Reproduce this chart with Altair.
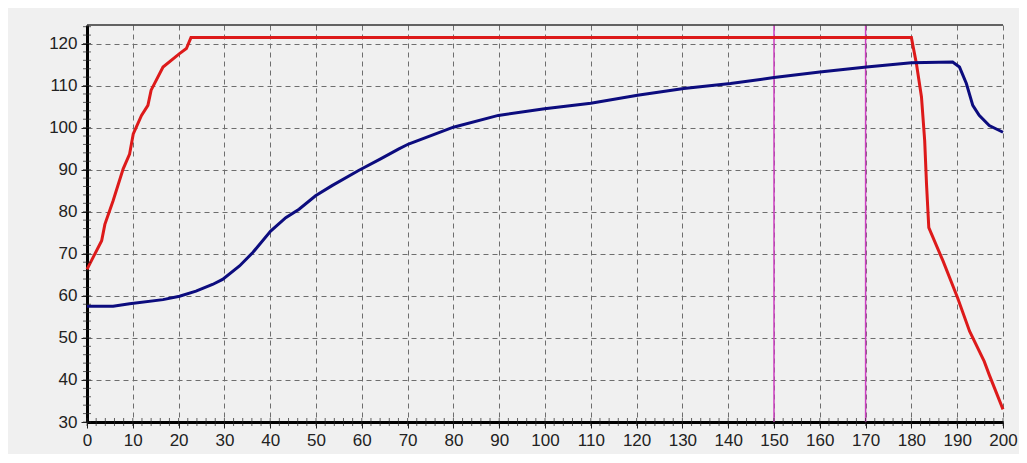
import altair as alt
import pandas as pd

# ---- data ----
red_x = [0, 1.5, 3.2, 3.9, 5.7, 7.9, 9.3, 10.1, 11.9, 13.3, 14.0, 16.6, 20.2, 21.7, 22.7,
         180, 181.1, 182.2, 182.9, 183.3, 183.8, 186.9, 190.1, 192.7, 195.9, 197, 200]
red_y = [66.3, 69.5, 73.1, 77.0, 82.6, 90.2, 93.7, 98.5, 102.9, 105.3, 108.9, 114.4, 117.6, 118.8, 121.4,
         121.4, 115.2, 107.3, 96.9, 86.6, 76.2, 68.3, 59.5, 51.6, 44.4, 41.2, 33.0]

blue_x = [0, 5.7, 9.3, 16.6, 20.2, 23.8, 27.4, 29.6, 33.3, 36.2, 40.1, 43.4, 46.3, 49.9, 53.5,
          59.3, 64, 68, 70.2, 80, 89.8, 99.9, 110, 120.2, 130.3, 140.5, 150, 160, 170.2, 180,
          189, 190.5, 192, 193.4, 194.8, 197, 200]
blue_y = [57.5, 57.5, 58.1, 59.1, 59.9, 61.1, 62.7, 63.9, 67.1, 70.3, 75.4, 78.6, 80.6, 83.8, 86.2,
          89.8, 92.5, 94.9, 96.1, 100.1, 102.9, 104.5, 105.8, 107.7, 109.3, 110.5, 111.9, 113.2, 114.4, 115.4,
          115.6, 114.4, 110.5, 105.3, 102.9, 100.5, 98.9]

marker_x = [150, 170]
x_ticks = list(range(0, 201, 10))
y_ticks = list(range(30, 121, 10))
x_minor = list(range(0, 201, 2))
y_minor = list(range(30, 125, 2))

Y_MIN, Y_MAX = 30, 124.4

red_df = pd.DataFrame({"x": red_x, "y": red_y})
blue_df = pd.DataFrame({"x": blue_x, "y": blue_y})
mark_df = pd.DataFrame({"x": marker_x})
xminor_df = pd.DataFrame({"x": x_minor, "y": [Y_MIN] * len(x_minor)})
yminor_df = pd.DataFrame({"y": y_minor, "x": [0] * len(y_minor)})
top_df = pd.DataFrame({"y": [Y_MAX]})

xs = alt.Scale(domain=[0, 200], nice=False, zero=False)
ys = alt.Scale(domain=[Y_MIN, Y_MAX], nice=False, zero=False)

axis_common = dict(
    domainColor="black", domainWidth=3,
    tickColor="#222", tickSize=6, tickWidth=1,
    labelFont="Liberation Sans", labelFontSize=17, labelColor="#222",
    labelFlush=False, labelOverlap=False,
    grid=True, gridColor="#6e6e6e", gridDash=[5, 4], gridWidth=1,
    title=None,
)

x_enc = alt.X("x:Q", scale=xs, axis=alt.Axis(values=x_ticks, labelPadding=4, **axis_common))
y_enc = alt.Y("y:Q", scale=ys, axis=alt.Axis(values=y_ticks, labelPadding=4, **axis_common))

base_x = alt.X("x:Q", scale=xs)
base_y = alt.Y("y:Q", scale=ys)

red = alt.Chart(red_df).mark_line(color="#dd1a1a", strokeWidth=3).encode(x=x_enc, y=y_enc)
blue = alt.Chart(blue_df).mark_line(color="#0c0c7e", strokeWidth=3).encode(x=base_x, y=base_y)

markers = alt.Chart(mark_df).mark_rule(color="#cc3fc0", strokeWidth=1.5).encode(x=base_x)

top = alt.Chart(top_df).mark_rule(color="#333", strokeWidth=1.5).encode(y=base_y)

xminor = alt.Chart(xminor_df).mark_tick(orient="vertical", size=8, thickness=1, color="#222").encode(
    x=base_x, y=base_y)
yminor = alt.Chart(yminor_df).mark_tick(orient="horizontal", size=8, thickness=1, color="#222").encode(
    x=base_x, y=base_y)

chart = alt.layer(markers, top, red, blue, xminor, yminor).properties(
    width=916, height=397,
    autosize=alt.AutoSizeParams(type="none"),
    padding={"left": 79, "top": 17, "right": 16, "bottom": 32},
    background="#f0f0f0",
).configure_view(stroke="transparent", fill="#f0f0f0")

chart.save("out.html", embed_options={"renderer": "svg", "actions": False})
